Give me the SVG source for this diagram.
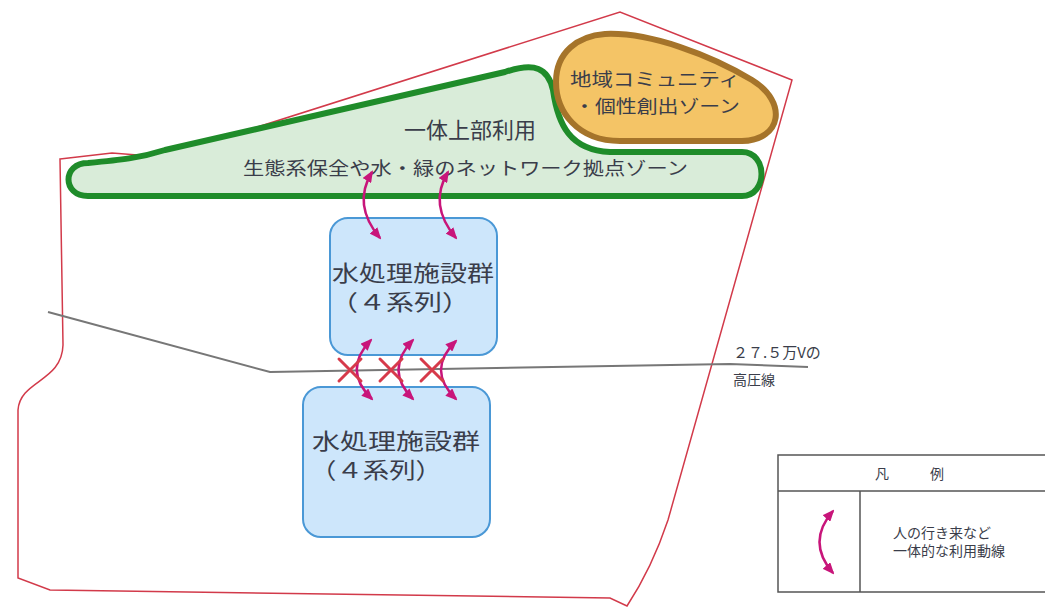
<svg xmlns="http://www.w3.org/2000/svg" width="1045" height="607" viewBox="0 0 1045 607">
<defs>
<marker id="ah" viewBox="0 0 12 10" refX="10" refY="5" markerWidth="12" markerHeight="10" markerUnits="userSpaceOnUse" orient="auto-start-reverse">
<path d="M0,0 L12,5 L0,10 Z" fill="#c8157a"/>
</marker>
<style>
.t{font-family:"Noto Sans CJK JP","Noto Sans",sans-serif;fill:#3a3d4a}
.arr{fill:none;stroke:#c8157a;stroke-width:2.5;marker-start:url(#ah);marker-end:url(#ah)}
.x{stroke:#d63a4a;stroke-width:3;stroke-linecap:round}
.box{fill:#cde6fb;stroke:#4a98d6;stroke-width:2}
.lg{fill:none;stroke:#555;stroke-width:1.5}
</style>
</defs>
<rect width="1045" height="607" fill="#fff"/>
<g id="site-boundary">
<path d="M60,159 L112,153 L163,157 L620,12 L792,80 L668,520 Q652,568 627,606 L610,598 L50,590 L18,578 L18,410 C20,380 62,382 63,345 Z" fill="none" stroke="#d23a4a" stroke-width="1.5"/>
</g>
<g id="power-line">
<polyline points="48,312 270,372 730,364 808,367" fill="none" stroke="#777" stroke-width="2"/>
<text class="t" x="733" y="358" font-size="15" fill="#555">２７.５万Vの</text>
<text class="t" x="733" y="385" font-size="14" fill="#555">高圧線</text>
</g>
<g id="green-zone">
<path d="M88,163 C120,160 140,158 165,150 L505,72 C535,62 548,68 553,90 C558,125 570,150 610,152 L742,152 C768,152 768,196 742,196 L88,196 C62,196 62,163 88,163 Z" fill="#d9ecd9" stroke="#1f8c2a" stroke-width="6" stroke-linejoin="round"/>
<text class="t" x="470" y="138" font-size="22" text-anchor="middle">一体上部利用</text>
<text class="t" x="243" y="175" font-size="18" textLength="445" lengthAdjust="spacingAndGlyphs">生態系保全や水・緑のネットワーク拠点ゾーン</text>
</g>
<g id="community-zone">
<path d="M605,34 C650,32 710,55 752,80 C788,102 782,140 742,141 L620,141 C578,141 556,112 556,82 C556,52 578,36 605,34 Z" fill="#f4c466" stroke="#a5742a" stroke-width="6"/>
<text class="t" x="570" y="86" font-size="18" textLength="170" lengthAdjust="spacingAndGlyphs">地域コミュニティ</text>
<text class="t" x="574" y="113" font-size="18" textLength="166" lengthAdjust="spacingAndGlyphs">・個性創出ゾーン</text>
</g>
<g id="facility-1">
<rect class="box" x="330" y="218" width="167" height="137" rx="18"/>
<text class="t" x="332" y="281" font-size="22" textLength="162" lengthAdjust="spacingAndGlyphs">水処理施設群</text>
<text class="t" x="330" y="310" font-size="22" textLength="140" lengthAdjust="spacingAndGlyphs">（４系列）</text>
</g>
<g id="facility-2">
<rect class="box" x="303" y="387" width="187" height="150" rx="18"/>
<text class="t" x="312" y="449" font-size="22" textLength="168" lengthAdjust="spacingAndGlyphs">水処理施設群</text>
<text class="t" x="310" y="478" font-size="22" textLength="132" lengthAdjust="spacingAndGlyphs">（４系列）</text>
</g>
<g id="connectors">
<path class="arr" d="M372,172 Q352,205 380,238"/>
<path class="arr" d="M448,172 Q428,205 456,238"/>
<path class="arr" d="M371,340 Q342,370 372,399"/>
<path class="arr" d="M413,340 Q384,370 413,399"/>
<path class="arr" d="M456,341 Q426,370 456,399"/>
<g id="blocked">
<path class="x" d="M339,359 L361,381 M361,359 L339,381"/>
<path class="x" d="M380,359 L402,381 M402,359 L380,381"/>
<path class="x" d="M421,359 L443,381 M443,359 L421,381"/>
</g>
</g>
<g id="legend">
<rect class="lg" x="778" y="455" width="280" height="137"/>
<line class="lg" x1="778" y1="491" x2="1050" y2="491"/>
<line class="lg" x1="860" y1="491" x2="860" y2="592"/>
<text class="t" x="875" y="479" font-size="14" fill="#444">凡</text>
<text class="t" x="930" y="479" font-size="14" fill="#444">例</text>
<path class="arr" d="M833,511 Q806,542 833,573"/>
<text class="t" x="893" y="538" font-size="14" fill="#444">人の行き来など</text>
<text class="t" x="893" y="556" font-size="14" fill="#444">一体的な利用動線</text>
</g>
</svg>
